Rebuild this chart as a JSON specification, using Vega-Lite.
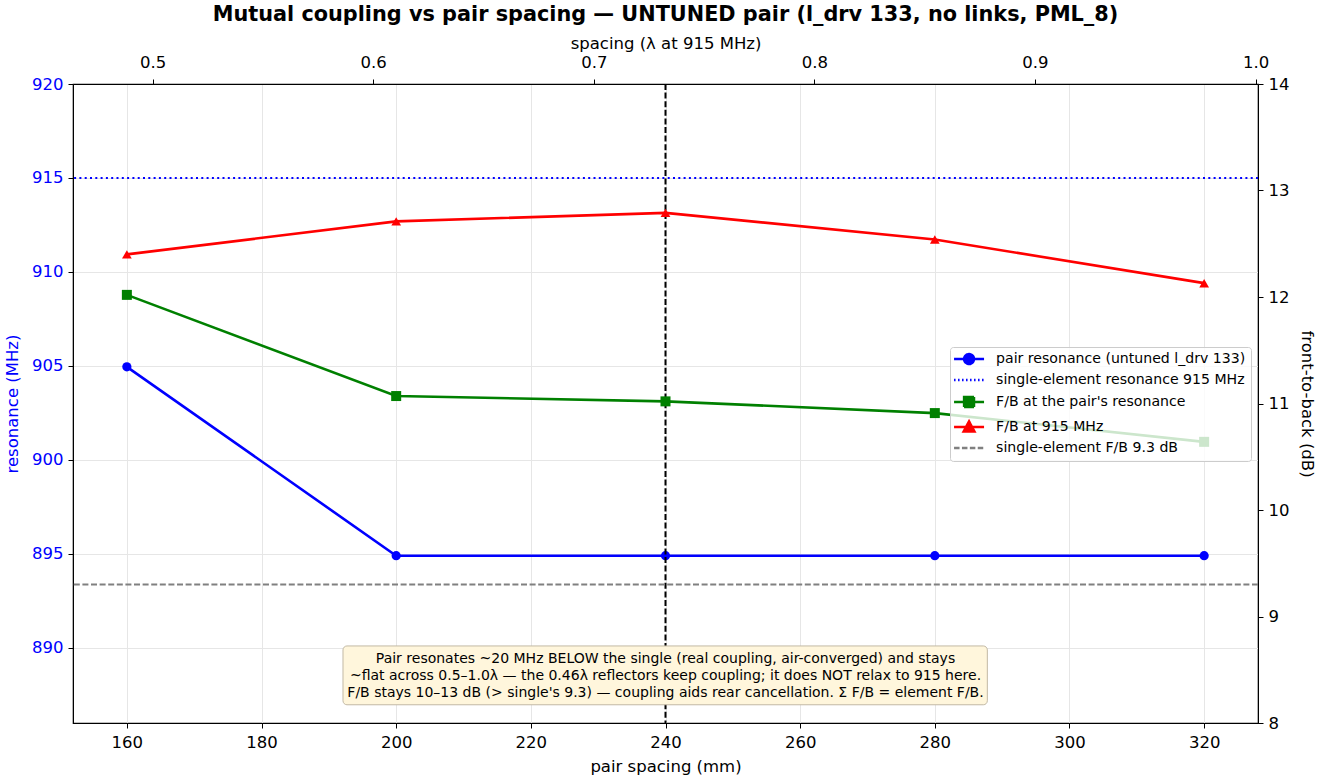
{
  "$schema": "https://vega.github.io/schema/vega-lite/v6.json",
  "autosize": {"type": "none"},
  "width": 1185,
  "height": 639,
  "padding": {"left": 73, "top": 84, "right": 62, "bottom": 57},
  "background": "white",
  "title": {
    "text": "Mutual coupling vs pair spacing — UNTUNED pair (l_drv 133, no links, PML_8)",
    "fontSize": 20.8,
    "fontWeight": "bold",
    "color": "black",
    "anchor": "middle",
    "offset": 9
  },
  "config": {
    "font": "DejaVu Sans",
    "view": {"stroke": "black", "strokeWidth": 1.2},
    "axis": {
      "domainColor": "black",
      "tickColor": "black",
      "tickSize": 5,
      "labelPadding": 4,
      "labelFontSize": 16.5,
      "labelColor": "black",
      "titleFontSize": 16.5,
      "titleFontWeight": "normal",
      "titleColor": "black",
      "gridColor": "#e6e6e6",
      "gridWidth": 1
    }
  },
  "datasets": {
    "pairs": [
      {"spacing": 160, "res": 904.95, "fb_res": 12.02, "fb_915": 12.40},
      {"spacing": 200, "res": 894.9, "fb_res": 11.07, "fb_915": 12.71},
      {"spacing": 240, "res": 894.9, "fb_res": 11.02, "fb_915": 12.79},
      {"spacing": 280, "res": 894.9, "fb_res": 10.91, "fb_915": 12.54},
      {"spacing": 320, "res": 894.9, "fb_res": 10.64, "fb_915": 12.13}
    ],
    "single_res": [{"name": "single-element resonance", "res": 915}],
    "single_fb": [{"name": "single-element F/B", "fb_res": 9.3}],
    "marker": [{"name": "highlighted spacing", "spacing": 240}]
  },
  "data": {"name": "pairs"},
  "layer": [
    {
      "layer": [
        {
          "encoding": {
            "x": {
              "field": "spacing",
              "type": "quantitative",
              "scale": {"domain": [152, 328], "nice": false, "zero": false},
              "axis": {
                "orient": "bottom",
                "values": [160, 180, 200, 220, 240, 260, 280, 300, 320],
                "grid": true,
                "labelPadding": 6,
                "title": "pair spacing (mm)",
                "titlePadding": 8
              }
            },
            "y": {
              "field": "res",
              "type": "quantitative",
              "scale": {"domain": [886, 920], "nice": false, "zero": false},
              "axis": {
                "orient": "left",
                "values": [890, 895, 900, 905, 910, 915, 920],
                "grid": true,
                "labelPadding": 5,
                "labelColor": "#0000ff",
                "title": "resonance (MHz)",
                "titleColor": "#0000ff",
                "titlePadding": 11
              }
            }
          },
          "layer": [
            {
              "data": {"name": "single_res"},
              "mark": {"type": "rule", "color": "#0000ff", "strokeWidth": 2, "strokeDash": [2, 3.3]},
              "encoding": {"x": null}
            },
            {
              "mark": {
                "type": "line",
                "color": "#0000ff",
                "strokeWidth": 2.6,
                "point": {"filled": true, "shape": "circle", "size": 85, "color": "#0000ff", "opacity": 1}
              }
            },
            {
              "data": {"name": "marker"},
              "mark": {"type": "rule", "color": "black", "strokeWidth": 2, "strokeDash": [6, 2.6]},
              "encoding": {"y": null}
            },
            {
              "transform": [{"filter": "datum.spacing == 240"}],
              "mark": {
                "type": "rect",
                "fill": "#fff6dc",
                "stroke": "#c2b9a4",
                "strokeWidth": 1,
                "cornerRadius": 4
              },
              "encoding": {
                "x": {"datum": 192.1, "type": "quantitative"},
                "x2": {"datum": 287.8},
                "y": {"datum": 890.1, "type": "quantitative"},
                "y2": {"datum": 886.97}
              }
            },
            {
              "transform": [{"filter": "datum.spacing == 240"}],
              "mark": {
                "type": "text",
                "fontSize": 14,
                "fontWeight": "normal",
                "lineHeight": 17,
                "align": "center",
                "baseline": "middle",
                "color": "black"
              },
              "encoding": {
                "x": {"datum": 240, "type": "quantitative"},
                "y": {"datum": 889.4, "type": "quantitative"},
                "text": {
                  "value": [
                    "Pair resonates ~20 MHz BELOW the single (real coupling, air-converged) and stays",
                    "~flat across 0.5–1.0λ — the 0.46λ reflectors keep coupling; it does NOT relax to 915 here.",
                    "F/B stays 10–13 dB (> single's 9.3) — coupling aids rear cancellation. Σ F/B = element F/B."
                  ]
                }
              }
            }
          ]
        },
        {
          "encoding": {
            "x": {"field": "spacing", "type": "quantitative"},
            "y": {
              "field": "fb_res",
              "type": "quantitative",
              "scale": {"domain": [8, 14], "nice": false, "zero": false},
              "axis": {
                "orient": "right",
                "values": [8, 9, 10, 11, 12, 13, 14],
                "grid": false,
                "labelPadding": 5,
                "title": "front-to-back (dB)",
                "titlePadding": 10
              }
            }
          },
          "layer": [
            {
              "data": {"name": "single_fb"},
              "mark": {"type": "rule", "color": "#808080", "strokeWidth": 2, "strokeDash": [6, 2.6]},
              "encoding": {"x": null}
            },
            {
              "mark": {
                "type": "line",
                "color": "#008000",
                "strokeWidth": 2.6,
                "point": {"filled": true, "shape": "square", "size": 100, "color": "#008000", "opacity": 1}
              }
            },
            {
              "mark": {
                "type": "line",
                "color": "#ff0000",
                "strokeWidth": 2.6,
                "point": {"filled": true, "shape": "triangle-up", "size": 95, "color": "#ff0000", "opacity": 1}
              },
              "encoding": {"y": {"field": "fb_915", "type": "quantitative"}}
            },
            {
              "data": {"values": []},
              "mark": {"type": "point", "size": 100, "strokeWidth": 2, "opacity": 1},
              "encoding": {
                "x": null,
                "y": null,
                "fill": {
                  "field": "s",
                  "type": "nominal",
                  "scale": {
                    "domain": ["pair resonance (untuned l_drv 133)", "single-element resonance 915 MHz", "F/B at the pair's resonance", "F/B at 915 MHz", "single-element F/B 9.3 dB"],
                    "range": ["#0000ff", "#0000ff", "#008000", "#ff0000", "#808080"]
                  },
                  "legend": {
                    "orient": "none",
                    "legendX": 877,
                    "legendY": 263,
                    "zindex": 0,
                    "title": null,
                    "fillColor": "rgba(255,255,255,0.8)",
                    "strokeColor": "#cccccc",
                    "cornerRadius": 3,
                    "padding": 5,
                    "symbolSize": 100,
                    "symbolStrokeWidth": 2.4,
                    "symbolOffset": 7,
                    "labelFontSize": 14.1,
                    "labelColor": "black",
                    "labelOffset": 20,
                    "labelLimit": 400,
                    "rowPadding": 4
                  }
                },
                "stroke": {
                  "field": "s",
                  "type": "nominal",
                  "scale": {
                    "domain": ["pair resonance (untuned l_drv 133)", "single-element resonance 915 MHz", "F/B at the pair's resonance", "F/B at 915 MHz", "single-element F/B 9.3 dB"],
                    "range": ["#0000ff", "#0000ff", "#008000", "#ff0000", "#808080"]
                  }
                },
                "shape": {
                  "field": "s",
                  "type": "nominal",
                  "scale": {
                    "domain": ["pair resonance (untuned l_drv 133)", "single-element resonance 915 MHz", "F/B at the pair's resonance", "F/B at 915 MHz", "single-element F/B 9.3 dB"],
                    "range": [
                      "M-3,0L3,0M1,0A1,1,0,1,1,-1,0A1,1,0,1,1,1,0Z",
                      "M-3,0L3,0",
                      "M-3,0L3,0M-1,-1L1,-1L1,1L-1,1Z",
                      "M-3,0L3,0M0,-1.15L1.1,0.9L-1.1,0.9Z",
                      "M-3,0L3,0"
                    ]
                  }
                },
                "strokeDash": {
                  "field": "s",
                  "type": "nominal",
                  "scale": {
                    "domain": ["pair resonance (untuned l_drv 133)", "single-element resonance 915 MHz", "F/B at the pair's resonance", "F/B at 915 MHz", "single-element F/B 9.3 dB"],
                    "range": [[1, 0], [1.5, 2.5], [1, 0], [1, 0], [5.5, 2.4]]
                  }
                }
              }
            }
          ]
        }
      ],
      "resolve": {"scale": {"y": "independent"}}
    },
    {
      "data": {"name": "marker"},
      "mark": {"type": "rule", "opacity": 0},
      "encoding": {
        "x": {
          "datum": 0.75,
          "type": "quantitative",
          "scale": {"domain": [0.4639, 1.0011], "nice": false, "zero": false},
          "axis": {
            "orient": "top",
            "values": [0.5, 0.6, 0.7, 0.8, 0.9, 1.0],
            "format": ".1f",
            "grid": false,
            "labelPadding": 9,
            "title": "spacing (λ at 915 MHz)",
            "titlePadding": 3
          }
        }
      }
    }
  ],
  "resolve": {"scale": {"x": "independent", "y": "independent"}}
}
